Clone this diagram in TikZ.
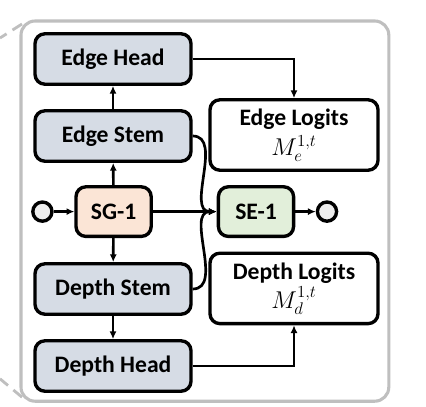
\documentclass[tikz,border=0pt]{standalone}
\usepackage{fontspec}
\setmainfont{Carlito}
\usetikzlibrary{arrows.meta, positioning}

\definecolor{headgray}{RGB}{214,220,229}
\definecolor{sgpeach}{RGB}{251,229,214}
\definecolor{segreen}{RGB}{226,239,218}
\definecolor{framegray}{RGB}{191,191,191}

\newcommand{\mlabel}[1]{{\fontsize{18}{20}\selectfont$#1$}}

\begin{document}
\begin{tikzpicture}[font=\fontsize{16.8}{21}\selectfont\bfseries,
    box/.style={draw, line width=2.4pt, rounded corners=7pt, inner sep=0pt},
    stem/.style={box, fill=headgray, minimum width=3.9cm, minimum height=1.26cm},
    logit/.style={box, fill=white, minimum width=4.2cm, minimum height=1.76cm, align=center},
    blk/.style={box, minimum width=1.88cm, minimum height=1.24cm},
    port/.style={circle, draw, line width=2.4pt, fill=black!7, minimum size=0.48cm, inner sep=0pt},
    link/.style={line width=1.9pt, -{Latex[length=5.5pt, width=5pt]}}]
    \useasboundingbox (0,0) rectangle (10.65,10.15);

    % frame and zoom lines
    \draw[framegray, line width=2.2pt, rounded corners=10pt] (0.525,0.12) rectangle (9.72,9.625);
    \draw[framegray, line width=2pt, dash pattern=on 8pt off 5pt] (0.55,9.55) -- (0,9.2);
    \draw[framegray, line width=2pt, dash pattern=on 8pt off 5pt] (0.55,0.22) -- (0,0.68);

    % left column
    \node[stem] (ehead) at (2.825,8.675) {Edge Head};
    \node[stem] (estem) at (2.825,6.75) {Edge Stem};
    \node[blk, fill=sgpeach] (sg) at (2.84,4.86) {SG-1};
    \node[stem] (dstem) at (2.825,2.925) {Depth Stem};
    \node[stem] (dhead) at (2.825,1.0) {Depth Head};

    % right column
    \node[logit] (elog) at (7.35,6.775) {Edge Logits\\\mlabel{M_e^{1,t}}};
    \node[blk, fill=segreen] (se) at (6.4,4.86) {SE-1};
    \node[logit] (dlog) at (7.35,2.94) {Depth Logits\\\mlabel{M_d^{1,t}}};

    \node[port] (pin) at (1.06,4.86) {};
    \node[port] (pout) at (8.175,4.86) {};

    % connectors
    \draw[link] (pin) -- (sg);
    \draw[link] (sg) -- (se);
    \draw[link] (se) -- (pout);
    \draw[link] (sg) -- (estem);
    \draw[link] (estem) -- (ehead);
    \draw[link] (sg) -- (dstem);
    \draw[link] (dstem) -- (dhead);
    \draw[link] (ehead.east) -| (elog.north);
    \draw[link] (dhead.east) -| (dlog.south);
    \draw[link] (estem.east) to[out=0, in=180] (se.west);
    \draw[link] (dstem.east) to[out=0, in=180] (se.west);
\end{tikzpicture}
\end{document}
